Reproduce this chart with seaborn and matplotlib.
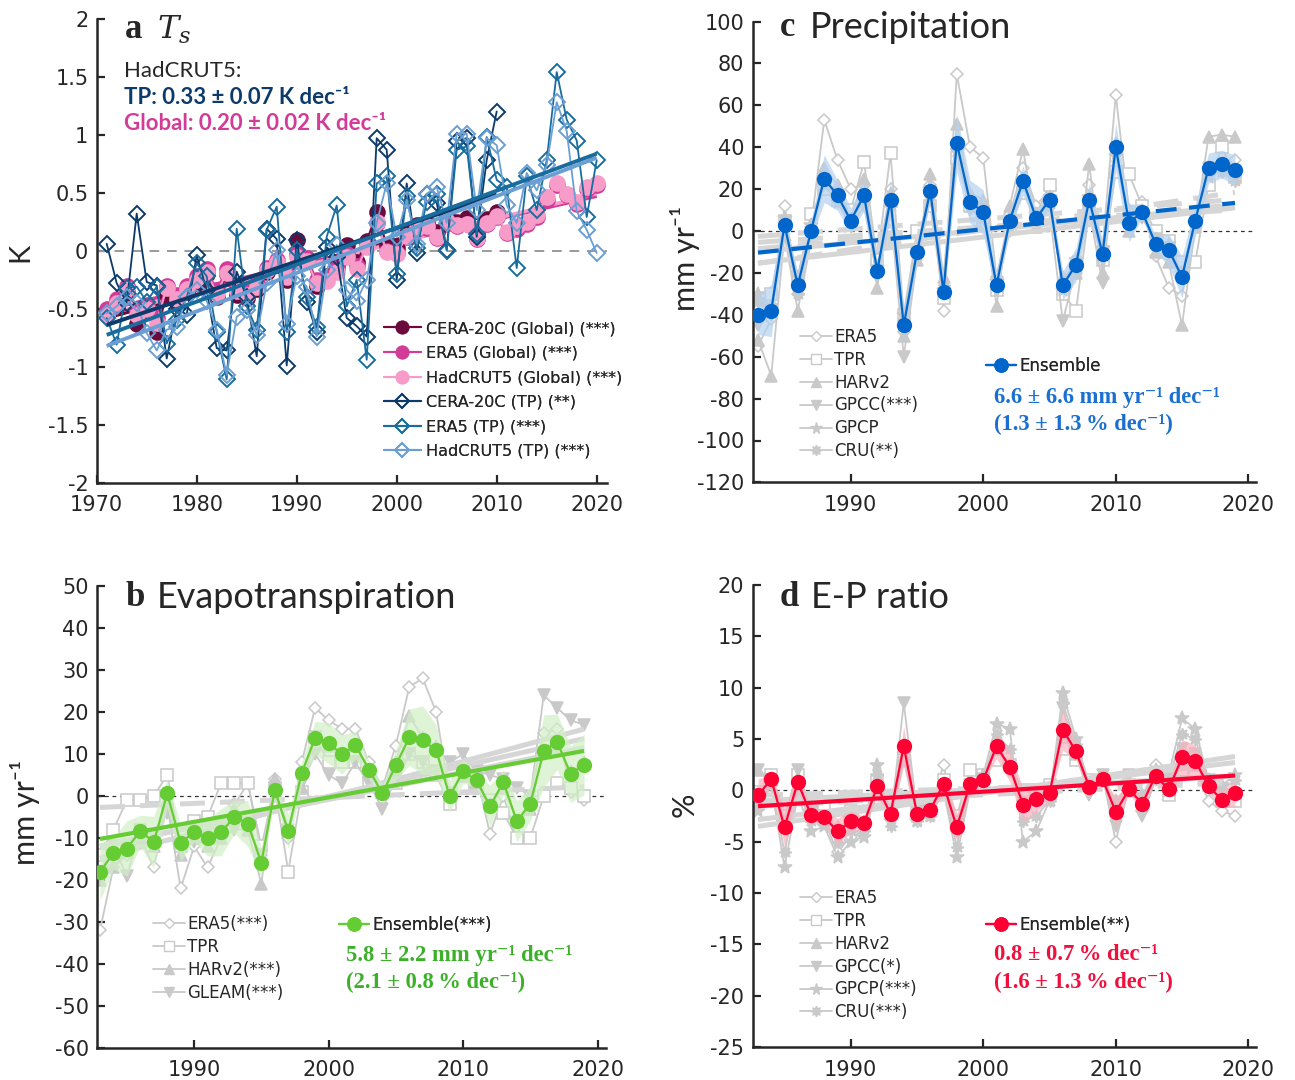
import numpy as np
import matplotlib
matplotlib.use("Agg")
import matplotlib.pyplot as plt
from matplotlib.lines import Line2D
import seaborn as sns

# =============================================================================
# Data
# =============================================================================

# ---- panel a: surface temperature anomaly (K) -------------------------------
YEARS_A = list(range(1971, 2021))
YEARS_CERA = list(range(1971, 2011))

CERA_GLOBAL = [-0.52, -0.48, -0.36, -0.63, -0.52, -0.70, -0.38, -0.45, -0.36, -0.28,
               -0.20, -0.40, -0.20, -0.38, -0.41, -0.33, -0.18, -0.12, -0.25, 0.09,
               -0.08, -0.30, -0.22, -0.12, 0.05, -0.10, 0.08, 0.33, 0.05, 0.02,
               0.15, 0.22, 0.24, 0.16, 0.30, 0.25, 0.28, 0.14, 0.27, 0.33]
ERA5_GLOBAL = [-0.50, -0.42, -0.30, -0.52, -0.47, -0.58, -0.30, -0.38, -0.30, -0.22,
               -0.16, -0.34, -0.16, -0.32, -0.36, -0.28, -0.15, -0.08, -0.20, -0.03,
               -0.06, -0.25, -0.23, -0.15, -0.03, -0.13, 0.05, 0.24, 0.00, -0.02,
               0.12, 0.19, 0.20, 0.11, 0.25, 0.21, 0.23, 0.10, 0.23, 0.29,
               0.15, 0.19, 0.23, 0.29, 0.44, 0.57, 0.48, 0.40, 0.53, 0.57]
HAD_GLOBAL = [-0.55, -0.45, -0.33, -0.55, -0.50, -0.62, -0.32, -0.42, -0.33, -0.25,
              -0.18, -0.37, -0.19, -0.35, -0.38, -0.31, -0.17, -0.10, -0.23, -0.05,
              -0.09, -0.28, -0.26, -0.18, -0.05, -0.16, 0.03, 0.25, -0.01, -0.03,
              0.13, 0.20, 0.21, 0.12, 0.26, 0.22, 0.23, 0.11, 0.24, 0.30,
              0.16, 0.21, 0.25, 0.31, 0.46, 0.58, 0.49, 0.42, 0.55, 0.58]
CERA_TP = [0.06, -0.28, -0.45, 0.32, -0.27, -0.30, -0.93, -0.50, -0.55, -0.04,
           -0.34, -0.84, -0.86, -0.18, -0.40, -0.91, 0.19, 0.10, -0.99, 0.09,
           -0.44, -0.70, 0.03, -0.05, -0.58, -0.65, -0.74, 0.97, 0.87, -0.25,
           0.58, -0.02, 0.49, 0.41, 0.01, 0.95, 0.97, 0.12, 0.78, 1.20]
ERA5_TP = [-0.58, -0.81, -0.32, -0.31, -0.44, -0.31, -0.80, -0.60, -0.40, -0.11,
           -0.22, -0.70, -1.11, 0.19, -0.48, -0.68, 0.18, 0.38, -0.70, 0.01,
           -0.40, -0.66, 0.12, 0.39, -0.48, -0.25, -0.94, 0.58, 0.64, -0.20,
           0.47, 0.02, 0.42, 0.49, 0.00, 0.87, 0.90, 0.14, 0.98, 0.61,
           0.55, -0.15, 0.64, 0.35, 0.78, 1.54, 1.13, 0.95, 0.29, 0.78]
HAD_TP = [-0.54, -0.48, -0.40, -0.45, -0.71, -0.86, -0.68, -0.66, -0.40, -0.34,
          -0.43, -0.68, -1.07, -0.57, -0.51, -0.73, -0.28, 0.01, -0.63, -0.22,
          -0.31, -0.74, -0.17, 0.05, -0.34, -0.43, -0.25, 0.24, 0.58, 0.12,
          0.44, 0.06, 0.49, 0.55, 0.24, 1.01, 1.01, 0.35, 0.97, 0.91,
          0.39, 0.24, 0.67, 0.52, 0.74, 1.28, 1.03, 0.34, 0.18, -0.02]
LABELS_A = ["CERA-20C (Global) (***)", "ERA5 (Global) (***)", "HadCRUT5 (Global) (***)",
            "CERA-20C (TP) (**)", "ERA5 (TP) (***)", "HadCRUT5 (TP) (***)"]

# ---- panels b-d share the 1983-2019 period ----------------------------------
YEARS = list(range(1983, 2020))

# ---- panel b: evapotranspiration (mm yr-1) ----------------------------------
ET_ENSEMBLE = [-18.1, -13.6, -12.5, -8.3, -11.0, 0.6, -11.2, -8.6, -10.0, -8.6,
               -5.0, -6.6, -15.9, 1.4, -8.4, 5.5, 13.8, 12.6, 9.9, 12.1,
               6.3, 0.6, 7.3, 14.0, 13.3, 10.9, -0.1, 5.9, 3.7, -2.4,
               3.3, -6.0, -1.8, 10.7, 12.9, 5.2, 7.5]
ET_ERA5 = [-32, -17, -14, -10, -17, -2, -22, -12, -17, -10, -2, 3, -14, 4, -10, 8, 21, 18, 16,
           16, 8, 2, 12, 26, 28, 20, 0, 5, 5, -9, 0, -10, 0, 15, 16, 1, -1]
ET_TPR = [-14, -8, -1, -1, 0, 5, -12, -6, -5, 3, 3, 3, -12, 2, -18, 1, 14, 8, 8,
          8, 3, 1, 3, 10, 8, 5, -2, 2, 2, -1, -4, -10, -10, 0, 3, 2, 0]
ET_HARV2 = [-20, -17, -13, -10, -12, -1, -14, -10, -12, -10, -3, -8, -21, 4, -8, 2, 14, 12, 10,
            12, 6, 2, 8, 19, 14, 12, 1, 5, 3, -2, 2, -6, -3, 11, 12, 6, 8]
ET_GLEAM = [-18, -12, -19, -8, -10, -4, -11, -11, -10, -10, -8, -8, -14, 0, -8, 3, 10, 5, 3,
            8, 3, -3, 4, 10, 8, 6, 8, 10, 6, 5, 4, 2, 0, 24, 21, 18, 17]
ET_LABELS = ["ERA5(***)", "TPR", "HARv2(***)", "GLEAM(***)"]
ET_SIG = [True, False, True, True]

# ---- panel c: precipitation (mm yr-1) ---------------------------------------
P_ENSEMBLE = [-40, -38, 3, -26, 0, 25, 17, 5, 17, -19, 15, -45, -10, 19, -29, 42, 14, 9, -26,
              5, 24, 6, 15, -26, -16, 15, -11, 40, 4, 9, -6, -9, -22, 5, 30, 32, 29]
P_ERA5 = [-55, -42, 12, -30, 2, 53, 34, 20, 22, -15, 20, -48, -8, 22, -38, 75, 40, 35, -22,
          8, 30, 12, 20, -30, -20, 22, -8, 65, 10, 14, -12, -27, -31, 8, 28, 30, 34]
P_TPR = [-35, -30, 5, -22, 8, 20, 15, 10, 33, -14, 37, -40, 0, 12, -32, 35, 12, 4, -28,
         2, 18, 8, 22, -30, -38, 10, -14, 28, 27, 12, 0, -5, -15, -15, 22, 40, 26]
P_HARV2 = [-52, -69, -2, -38, -5, 30, 22, 6, 25, -27, 18, -50, -14, 27, -22, 51, 18, 15, -36,
           12, 39, 2, 16, -22, -20, 32, -20, 42, 0, 10, -10, -15, -45, 2, 45, 46, 45]
P_GPCC = [-45, -40, 0, -30, -3, 22, 14, 2, 12, -22, 10, -60, -14, 15, -30, 38, 10, 6, -28,
          0, 22, 2, 10, -43, -18, 10, -25, 38, 2, 6, -4, -8, -20, 6, 30, 30, 26]
P_GPCP = [-30, -36, 6, -22, 3, 22, 14, 4, 15, -17, 14, -40, -8, 20, -28, 38, 12, 6, -24,
          6, 22, 8, 16, -28, -14, 16, -8, 36, 6, 9, -4, -6, -20, 4, 26, 30, 28]
P_CRU = [-34, -38, 4, -30, 0, 24, 16, 6, 14, -20, 12, -42, -12, 18, -26, 40, 15, 10, -24,
         4, 22, 4, 13, -24, -14, 14, -12, 38, 2, 8, -6, -10, -22, 4, 30, 28, 24]
P_LABELS = ["ERA5", "TPR", "HARv2", "GPCC(***)", "GPCP", "CRU(**)"]
P_SIG = [False, False, False, True, False, True]

# ---- panel d: E-P ratio (%) -------------------------------------------------
EP_ENSEMBLE = [-0.5, 1.1, -3.6, 0.8, -2.4, -2.6, -4.0, -3.0, -3.2, 0.4, -2.3, 4.3, -2.3,
               -1.9, 0.6, -3.6, 0.6, 1.0, 4.3, 2.3, -1.4, -0.8, -0.3, 5.9, 3.8, 0.3,
               1.1, -2.1, 0.1, -1.3, 1.4, 0.1, 3.2, 2.9, 0.4, -0.9, -0.3]
EP_ERA5 = [-0.5, 1.5, -3.0, 1.0, -2.0, -3.0, -6.0, -4.5, -4.0, 0.0, -2.5, 4.0, -2.5, -2.0,
           2.5, -4.0, 0.5, 1.0, 3.5, 2.0, -1.0, -1.0, 0.0, 5.0, 3.0, 0.5, 1.5, -5.0, 0.5,
           -2.0, 2.5, 1.0, 2.5, 2.0, -1.0, -2.0, -2.5]
EP_TPR = [1.0, 1.5, -2.5, 1.5, -1.5, -1.5, -3.0, -2.0, -2.5, 1.0, -1.5, 3.0, -1.5, -1.0,
          1.0, -2.5, 2.0, 1.5, 3.0, 2.5, 0.0, 0.0, 0.5, 4.0, 3.0, 1.0, 1.0, -1.5, 0.5,
          -1.0, 1.5, -0.5, 2.0, 2.0, 0.5, -1.0, -1.0]
EP_HARV2 = [2.0, 1.0, -3.0, 0.5, -2.5, -2.5, -3.5, -3.0, -3.0, 0.5, -2.0, 4.5, -2.0, -1.5,
            0.5, -3.0, 0.5, 1.0, 4.0, 2.5, -1.0, -0.5, 0.0, 5.5, 3.5, 0.5, 1.0, -2.0, 0.5,
            -1.0, 1.5, 0.0, 3.0, 2.5, 0.5, -0.5, 0.0]
EP_GPCC = [2.0, 1.0, -3.0, 2.0, -2.0, -2.5, -4.0, -3.0, -3.5, 0.0, -3.0, 8.5, -2.0, -2.0,
           0.0, -3.5, 0.5, 1.0, 4.0, 2.0, -1.5, -1.0, -0.5, 8.0, 3.5, -0.5, 1.5, -3.5, 1.5,
           -2.5, 1.0, 0.5, 4.0, 3.5, 1.0, -0.5, -0.5]
EP_GPCP = [-2.0, 0.5, -7.5, -0.5, -4.0, -3.5, -6.5, -5.0, -4.5, 2.5, -3.0, 3.5, -3.0, -2.5,
           0.0, -6.5, 0.0, 1.5, 6.5, 6.0, -5.0, -4.0, -1.0, 9.5, 5.0, 0.5, 1.0, -1.0, 0.0,
           -0.5, 2.0, 1.5, 7.0, 6.0, 1.0, 0.5, 1.5]
EP_CRU = [-1.5, 0.5, -6.0, 0.0, -3.0, -3.0, -5.0, -4.0, -4.0, 1.5, -3.5, 3.0, -3.0, -2.5,
          0.5, -5.5, 0.5, 1.0, 5.5, 4.0, -3.0, -2.5, -1.0, 8.5, 4.5, 0.5, 1.0, -1.0, 0.5,
          -1.0, 2.0, 1.0, 5.5, 5.0, 1.0, 0.0, 1.0]
EP_LABELS = ["ERA5", "TPR", "HARv2", "GPCC(*)", "GPCP(***)", "CRU(***)"]
EP_SIG = [False, False, False, True, True, True]

# =============================================================================
# Style
# =============================================================================
GLOBAL_COLORS = ["#6b0b3d", "#d23b98", "#f79bc9"]
TP_COLORS = ["#0b3a6b", "#186d9e", "#6b9fd4"]
GRAY = "#c9c9c9"
GRAY_TREND = "#d6d6d6"
BLUE, BLUE_BAND, BLUE_TXT = "#0066cc", "#b4d2f0", "#1a6fd0"
GREEN, GREEN_BAND, GREEN_TXT = "#66cc33", "#d2f0c6", "#3db02a"
RED, RED_BAND, RED_TXT = "#ff0033", "#f8b3c0", "#f0103e"

# marker, size, face colour of the gray product series (ERA5, TPR, HARv2, ...)
GRAY_MARKERS = [("D", 6.5, "white"), ("s", 8, "white"), ("^", 9, GRAY),
                ("v", 9, GRAY), ("*", 10, GRAY), ((8, 1, 0), 9, GRAY)]

SERIF = ["Liberation Serif", "DejaVu Serif"]
HUMAN = ["Lato", "DejaVu Sans"]

sns.set_style("ticks", {"xtick.direction": "in", "ytick.direction": "in"})
plt.rcParams["font.family"] = ["DejaVu Sans"]
plt.rcParams["axes.unicode_minus"] = False

W, H = 1295, 1080
fig = plt.figure(figsize=(W / 100, H / 100), dpi=100)


def fx(x):
    return x / W


def fy(y):
    return 1 - y / H


def axes_px(left, top, right, bottom):
    return fig.add_axes([fx(left), fy(bottom), (right - left) / W, (bottom - top) / H])


def style_axes(ax, xlim, ylim, xticks, yticks, yticklabels=None):
    ax.set_xlim(xlim)
    ax.set_ylim(ylim)
    ax.set_xticks(xticks)
    ax.set_yticks(yticks)
    if yticklabels is not None:
        ax.set_yticklabels(yticklabels)
    ax.set_xlabel("")
    ax.set_ylabel("")
    sns.despine(ax=ax)
    for side in ["left", "bottom"]:
        ax.spines[side].set_linewidth(1.8)
    ax.tick_params(direction="in", length=6, width=1.6, labelsize=15)
    ax.tick_params(axis="x", pad=9)
    ax.tick_params(axis="y", pad=6)


def draw_series(ax, x, y, color, marker, ms, mfc, lw=1.3, mew=1.2, z=2):
    sns.lineplot(x=x, y=y, ax=ax, color=color, linewidth=lw, marker=marker,
                 markersize=ms, markerfacecolor=mfc, markeredgecolor=color,
                 markeredgewidth=mew, estimator=None, sort=False, legend=False,
                 zorder=z)


def draw_trend(ax, x, y, color, lw, dashed=False, z=3):
    ls = (0, (5, 3)) if dashed else "-"
    sns.regplot(x=np.asarray(x, float), y=np.asarray(y, float), ax=ax,
                scatter=False, ci=None, truncate=True, color=color,
                line_kws=dict(linewidth=lw, linestyle=ls, zorder=z, solid_capstyle="butt"))


def legend_px(ax, handles, labels, x, y, size, hl, pad, spacing):
    leg = ax.legend(handles, labels, loc="upper left", bbox_to_anchor=(fx(x), fy(y)),
                    bbox_transform=fig.transFigure, frameon=False, fontsize=size,
                    handlelength=hl, handletextpad=pad, labelspacing=spacing,
                    borderaxespad=0, borderpad=0)
    ax.add_artist(leg)
    return leg


def gray_handle(i):
    m, ms, mfc = GRAY_MARKERS[i]
    return Line2D([], [], color=GRAY, lw=1.3, marker=m, markersize=ms * 0.85,
                  markerfacecolor=mfc, markeredgecolor=GRAY)


def ensemble_handle(color):
    return Line2D([], [], color=color, lw=1.6, marker="o", markersize=10.5,
                  markeredgewidth=0)


def ensemble_panel(ax, members, sig, ensemble, color, band_color, ens_dashed):
    # gray product series
    for i, vals in enumerate(members):
        m, ms, mfc = GRAY_MARKERS[i]
        draw_series(ax, YEARS, vals, GRAY, m, ms, mfc, lw=1.3, mew=1.1, z=2)
    for vals, s in zip(members, sig):
        draw_trend(ax, YEARS, vals, GRAY_TREND, 3.6, dashed=not s, z=3)
    # spread of the products around the ensemble, and the ensemble itself
    spread = np.array(members, dtype=float).std(axis=0)
    ens = np.asarray(ensemble, float)
    ax.fill_between(YEARS, ens - spread, ens + spread, color=band_color, alpha=0.7,
                    lw=0, zorder=4)
    draw_trend(ax, YEARS, ensemble, color, 3.0, dashed=ens_dashed, z=5)
    draw_series(ax, YEARS, ensemble, color, "o", 11, color, lw=1.6, mew=0, z=6)
    ax.axhline(0, color="#333333", lw=0.9, ls=(0, (3, 3)), zorder=1)


# =============================================================================
# Panel a
# =============================================================================
ax_a = axes_px(96.7, 18.7, 606.7, 482.7)
ax_a.axhline(0, color="#9a9a9a", lw=1.4, ls=(0, (5, 4)), zorder=1)
global_sets = [(YEARS_CERA, CERA_GLOBAL), (YEARS_A, ERA5_GLOBAL), (YEARS_A, HAD_GLOBAL)]
tp_sets = [(YEARS_CERA, CERA_TP), (YEARS_A, ERA5_TP), (YEARS_A, HAD_TP)]
for (x, y), c in zip(global_sets, GLOBAL_COLORS):
    draw_trend(ax_a, x, y, c, 2.6, z=1.5)
for (x, y), c in zip(global_sets, GLOBAL_COLORS):
    draw_series(ax_a, x, y, c, "o", 12, c, lw=1.5, mew=0, z=2)
for (x, y), c in zip(tp_sets, TP_COLORS):
    draw_series(ax_a, x, y, c, "D", 8.5, "none", lw=1.3, mew=1.4, z=4)
for (x, y), c in zip(tp_sets, TP_COLORS):
    draw_trend(ax_a, x, y, c, 2.8, z=5)

style_axes(ax_a, (1970, 2021), (-2, 2), range(1970, 2021, 10),
           [-2, -1.5, -1, -0.5, 0, 0.5, 1, 1.5, 2],
           ["-2", "-1.5", "-1", "-0.5", "0", "0.5", "1", "1.5", "2"])

handles_a = [Line2D([], [], color=c, lw=1.5, marker="o", markersize=10, markeredgewidth=0)
             for c in GLOBAL_COLORS]
handles_a += [Line2D([], [], color=c, lw=1.5, marker="D", markersize=7.5,
                     markerfacecolor="none", markeredgewidth=1.3) for c in TP_COLORS]
legend_px(ax_a, handles_a, LABELS_A, 384, 321, 11.5, 2.3, 0.3, 0.6)

fig.text(fx(125), fy(30), "a", family=SERIF, weight="bold", size=25, va="center")
fig.text(fx(157), fy(30), r"$T_s$", math_fontfamily="dejavuserif", size=23, va="center")
fig.text(fx(124), fy(71), "HadCRUT5:", family=HUMAN, size=16, va="center")
fig.text(fx(124), fy(97), "TP: 0.33 ± 0.07 K dec\u207b\u00b9", family=HUMAN, size=16,
         weight="bold", color=TP_COLORS[0], va="center")
fig.text(fx(124), fy(124), "Global: 0.20 ± 0.02 K dec\u207b\u00b9", family=HUMAN, size=16,
         weight="bold", color=GLOBAL_COLORS[1], va="center")
fig.text(fx(20), fy(252), "K", family=HUMAN, size=21, rotation=90, ha="center", va="center")

# =============================================================================
# Panel c
# =============================================================================
ax_c = axes_px(752.7, 21.5, 1256.2, 482.4)
ensemble_panel(ax_c, [P_ERA5, P_TPR, P_HARV2, P_GPCC, P_GPCP, P_CRU], P_SIG,
               P_ENSEMBLE, BLUE, BLUE_BAND, ens_dashed=True)
style_axes(ax_c, (1982.6, 2020.6), (-120, 100), range(1990, 2021, 10),
           range(-120, 101, 20))
legend_px(ax_c, [gray_handle(i) for i in range(6)], P_LABELS, 800, 328, 12, 1.9, 0.15, 0.29)
legend_px(ax_c, [ensemble_handle(BLUE)], ["Ensemble"], 986, 357, 12, 1.8, 0.2, 0.2)
fig.text(fx(780), fy(28), "c", family=SERIF, weight="bold", size=25, va="center")
fig.text(fx(810), fy(28), "Precipitation", family=HUMAN, size=26, va="center")
fig.text(fx(994), fy(397), "6.6 ± 6.6 mm yr\u207b\u00b9 dec\u207b\u00b9", family=SERIF,
         weight="bold", size=16.3, color=BLUE_TXT, va="center")
fig.text(fx(994), fy(424), "(1.3 ± 1.3\u2009% dec\u207b\u00b9)", family=SERIF,
         weight="bold", size=16.3, color=BLUE_TXT, va="center")
fig.text(fx(685), fy(258), "mm yr\u207b\u00b9", family=HUMAN, size=22, rotation=90,
         ha="center", va="center")

# =============================================================================
# Panel b
# =============================================================================
ax_b = axes_px(97.3, 586, 605.6, 1048)
ensemble_panel(ax_b, [ET_ERA5, ET_TPR, ET_HARV2, ET_GLEAM], ET_SIG,
               ET_ENSEMBLE, GREEN, GREEN_BAND, ens_dashed=False)
style_axes(ax_b, (1982.8, 2020.6), (-60, 50), range(1990, 2021, 10),
           range(-60, 51, 10))
legend_px(ax_b, [gray_handle(i) for i in range(4)], ET_LABELS, 153, 915, 12, 1.9, 0.15, 0.29)
legend_px(ax_b, [ensemble_handle(GREEN)], ["Ensemble(***)"], 339, 916, 12, 1.8, 0.2, 0.2)
fig.text(fx(125), fy(597), "b", family=SERIF, weight="bold", size=25, va="center")
fig.text(fx(157), fy(597), "Evapotranspiration", family=HUMAN, size=26, va="center")
fig.text(fx(346), fy(955), "5.8 ± 2.2 mm yr\u207b\u00b9 dec\u207b\u00b9", family=SERIF,
         weight="bold", size=16.3, color=GREEN_TXT, va="center")
fig.text(fx(346), fy(982), "(2.1 ± 0.8\u2009% dec\u207b\u00b9)", family=SERIF,
         weight="bold", size=16.3, color=GREEN_TXT, va="center")
fig.text(fx(25), fy(812), "mm yr\u207b\u00b9", family=HUMAN, size=22, rotation=90,
         ha="center", va="center")

# =============================================================================
# Panel d
# =============================================================================
ax_d = axes_px(752.7, 585, 1256.2, 1047)
ensemble_panel(ax_d, [EP_ERA5, EP_TPR, EP_HARV2, EP_GPCC, EP_GPCP, EP_CRU], EP_SIG,
               EP_ENSEMBLE, RED, RED_BAND, ens_dashed=False)
style_axes(ax_d, (1982.6, 2020.6), (-25, 20), range(1990, 2021, 10),
           range(-25, 21, 5))
legend_px(ax_d, [gray_handle(i) for i in range(6)], EP_LABELS, 800, 889, 12, 1.9, 0.15, 0.29)
legend_px(ax_d, [ensemble_handle(RED)], ["Ensemble(**)"], 986, 916, 12, 1.8, 0.2, 0.2)
fig.text(fx(780), fy(597), "d", family=SERIF, weight="bold", size=25, va="center")
fig.text(fx(811), fy(597), "E-P ratio", family=HUMAN, size=26, va="center")
fig.text(fx(994), fy(955), "0.8 ± 0.7\u2009% dec\u207b\u00b9", family=SERIF,
         weight="bold", size=16.3, color=RED_TXT, va="center")
fig.text(fx(994), fy(982), "(1.6 ± 1.3\u2009% dec\u207b\u00b9)", family=SERIF,
         weight="bold", size=16.3, color=RED_TXT, va="center")
fig.text(fx(685), fy(805), "%", family=HUMAN, size=22, rotation=90,
         ha="center", va="center")

fig.savefig("out.png", dpi=100)
plt.close(fig)
